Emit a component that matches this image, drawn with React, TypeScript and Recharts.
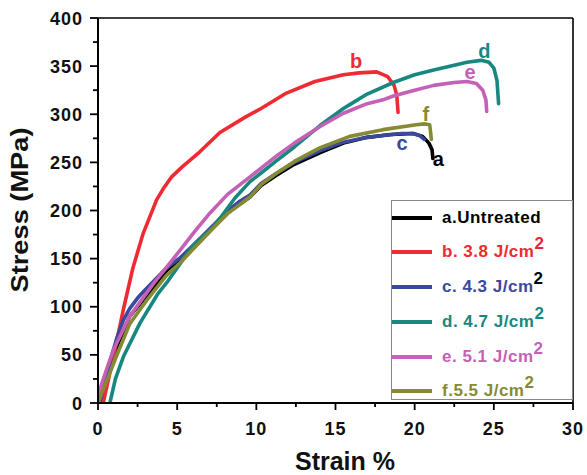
import React from 'react';
import { LineChart, Line, XAxis, YAxis, Legend, ReferenceLine, ReferenceDot } from 'recharts';

// [strain %, stress MPa]
const untreatedA = [[0.1,0],[0.6,28],[1.1,55],[2.0,90],[3.0,110],[4.3,137],[5.2,150],[6.2,166],[7.3,183],[8.2,198],[9.6,214],[10.3,226],[11.3,237],[12.4,248],[14,260],[15.5,270],[17,276],[18.5,279],[19.9,280],[20.5,277],[20.9,270],[21.1,263],[21.15,254]];
const fluenceB = [[0.33,0],[1.0,50],[1.6,97],[2.2,140],[2.85,176],[3.7,211],[4.1,222],[4.65,235],[5.3,245],[6.3,259],[7.7,281],[9.3,297],[10.3,306],[11.9,322],[13.7,334],[15.5,341],[16.5,343],[17.6,344],[18.3,339],[18.7,330],[18.87,320],[18.95,302]];
const fluenceC = [[0.1,0],[0.7,40],[1.2,68],[1.6,86],[2.0,98],[2.5,109],[3.0,118],[3.6,128],[4.3,140],[5.2,151],[6.2,167],[7.3,185],[8.2,200],[8.9,209],[9.6,216],[10.3,228],[11.3,239],[12.4,250],[14,262],[15.5,271],[17,276],[18,278],[19.2,280],[19.9,280],[20.3,278],[20.6,274]];
const fluenceD = [[0.75,0],[1.1,25],[1.6,48],[2.65,83],[3.8,114],[4.34,125],[5.8,159],[6.1,165],[7.3,183],[7.8,194],[8.65,213],[9.6,230],[10.3,239],[11.3,252],[12.4,266],[14,288],[15.5,306],[15.9,310],[17,321],[18.65,333],[20,341],[21.2,346],[22.5,351],[23.3,354],[24.2,356],[24.7,354],[25.0,348],[25.2,335],[25.3,311]];
const fluenceE = [[0.0,8],[0.5,33],[0.97,55],[2.0,90],[3.5,124],[5.2,159],[6.1,178],[7.0,196],[8.2,217],[9.6,235],[10.3,244],[11.3,257],[12.4,270],[14,287],[15.5,301],[17,311],[18.0,315],[18.65,319],[20,325],[21.2,330],[22.5,333],[23.3,334],[23.9,332],[24.3,325],[24.5,315],[24.55,303]];
const fluenceF = [[0.0,0],[0.6,25],[1.2,50],[2.0,82],[3.0,105],[4.3,132],[5.2,146],[6.2,163],[7.3,182],[8.2,197],[9.6,214],[10.3,227],[11.3,239],[12.4,251],[14,265],[15.9,277],[18,284],[20.1,289],[20.6,290],[20.95,289],[21.0,282],[21.05,274]];

const xTicks = [0,2.5,5,7.5,10,12.5,15,17.5,20,22.5,25,27.5,30];
const yTicks = [0,25,50,75,100,125,150,175,200,225,250,275,300,325,350,375,400];

const series = [
  { key: 'a', label: 'a.Untreated', sup: '', supColor: '#000', color: '#000000', data: untreatedA, tag: 'a', tagAt: [21.5, 254] },
  { key: 'b', label: 'b. 3.8 J/cm', sup: '2', supColor: '#e8262f', color: '#ee2a33', data: fluenceB, tag: 'b', tagAt: [16.3, 355] },
  { key: 'c', label: 'c. 4.3 J/cm', sup: '2', supColor: '#000', color: '#3a489e', data: fluenceC, tag: 'c', tagAt: [19.2, 270] },
  { key: 'd', label: 'd. 4.7 J/cm', sup: '2', supColor: '#17877f', color: '#17877f', data: fluenceD, tag: 'd', tagAt: [24.4, 366] },
  { key: 'e', label: 'e. 5.1 J/cm', sup: '2', supColor: '#c460b6', color: '#c460b6', data: fluenceE, tag: 'e', tagAt: [23.5, 344] },
  { key: 'f', label: 'f.5.5 J/cm', sup: '2', supColor: '#868a32', color: '#868a32', data: fluenceF, tag: 'f', tagAt: [20.7, 300] },
];

const FONT = '"Liberation Sans", Arial, Helvetica, sans-serif';

const XTick = (props: any) => {
  const { x, y, payload } = props;
  const v = payload.value;
  const major = v % 5 === 0;
  return (
    <g>
      <line x1={x} x2={x} y1={y} y2={y + (major ? 7 : 4)} stroke="#000" strokeWidth={1.8} />
      {major && (
        <text x={x} y={y + 32} textAnchor="middle" fontSize={18} fontWeight="bold" fontFamily={FONT} fill="#111" letterSpacing={1}>
          {v}
        </text>
      )}
    </g>
  );
};

const YTick = (props: any) => {
  const { x, y, payload } = props;
  const v = payload.value;
  const major = v % 50 === 0;
  return (
    <g>
      <line x1={x - (major ? 8 : 5)} x2={x} y1={y} y2={y} stroke="#000" strokeWidth={1.8} />
      {major && (
        <text x={x - 15} y={y + 6.5} textAnchor="end" fontSize={18} fontWeight="bold" fontFamily={FONT} fill="#111" letterSpacing={1}>
          {v}
        </text>
      )}
    </g>
  );
};

const YTitle = () => (
  <text transform="translate(28,210) rotate(-90)" textAnchor="middle" fontSize={23} fontWeight="bold" fontFamily={FONT} fill="#111" textLength={165} lengthAdjust="spacingAndGlyphs">
    Stress (MPa)
  </text>
);

const XTitle = () => (
  <text x={345} y={470} textAnchor="middle" fontSize={25} fontWeight="bold" fontFamily={FONT} fill="#111">
    Strain %
  </text>
);

const LegendBox = () => (
  <div style={{ width: 182, height: 200, boxSizing: 'border-box', border: '1px solid #888', background: '#fff', fontFamily: FONT, position: 'relative' }}>
    {series.map((s, i) => (
      <div key={s.key} style={{ position: 'absolute', left: 0, top: 16.7 + i * 34.7 - 12, height: 24, display: 'flex', alignItems: 'center', whiteSpace: 'nowrap' }}>
        <div style={{ width: 40, height: 4, background: s.color, marginLeft: 0, marginRight: 10 }} />
        <span style={{ color: s.color, fontWeight: 'bold', fontSize: 17, letterSpacing: 0.5 }}>
          {s.label}
          {s.sup && <sup style={{ color: s.supColor, fontSize: 17, verticalAlign: 'baseline', position: 'relative', top: -8 }}>{s.sup}</sup>}
        </span>
      </div>
    ))}
  </div>
);

export default function App() {
  return (
    <div style={{ position: 'absolute', left: 0, top: 0, width: 587, height: 475, background: '#fff' }}>
      <LineChart width={587} height={475} margin={{ top: 18, right: 14, bottom: 0, left: 0 }}>
        <XAxis
          type="number"
          dataKey="x"
          domain={[0, 30]}
          ticks={xTicks}
          interval={0}
          tickSize={0}
          tickMargin={0}
          tickLine={false}
          tick={<XTick />}
          height={72}
          axisLine={{ stroke: '#000', strokeWidth: 2 }}
          allowDataOverflow
          label={<XTitle />}
        />
        <YAxis
          type="number"
          dataKey="y"
          domain={[0, 400]}
          ticks={yTicks}
          interval={0}
          tickSize={0}
          tickMargin={0}
          tickLine={false}
          tick={<YTick />}
          width={98}
          axisLine={{ stroke: '#000', strokeWidth: 2 }}
          allowDataOverflow
          label={<YTitle />}
        />
        <ReferenceLine y={400} stroke="#000" strokeWidth={1.6} />
        <ReferenceLine x={30} stroke="#000" strokeWidth={1.6} />
        {series.map((s) => (
          <Line
            key={s.key}
            data={s.data.map(([x, y]) => ({ x, y }))}
            dataKey="y"
            type="linear"
            stroke={s.color}
            strokeWidth={3.6}
            strokeLinejoin="round"
            strokeLinecap="round"
            dot={false}
            activeDot={false}
            isAnimationActive={false}
            legendType="line"
            name={s.label}
          />
        ))}
        {series.map((s) => (
          <ReferenceDot
            key={'t' + s.key}
            x={s.tagAt[0]}
            y={s.tagAt[1]}
            r={0}
            stroke="none"
            fill="none"
            label={{ value: s.tag, position: 'center', fill: s.color, fontSize: 20, fontWeight: 'bold', fontFamily: FONT }}
          />
        ))}
        <Legend
          layout="vertical"
          align="center"
          verticalAlign="middle"
          content={<LegendBox />}
          wrapperStyle={{ position: 'absolute', left: 391, top: 200, width: 182, height: 200 }}
        />
      </LineChart>
    </div>
  );
}
